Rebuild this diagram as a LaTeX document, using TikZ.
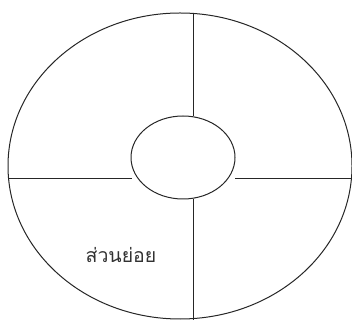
\documentclass[tikz,border=0pt]{standalone}
\usepackage{fontspec}
\newfontfamily\thaifont[Script=Thai]{Loma}
\usetikzlibrary{shapes.geometric}
\tikzset{
  vong/.style={ellipse, draw=black!85, line width=1pt, inner sep=0pt},
  sen/.style={draw=black!85, line width=1pt},
  pai/.style={font=\thaifont\fontsize{19.5}{22}\selectfont, text=black!80},
}
\begin{document}
\begin{tikzpicture}[x=1pt,y=1pt]
\useasboundingbox (0,0) rectangle (352,320);
% วงนอกและวงใน
\node[vong, minimum width=344pt, minimum height=306pt] (nok) at (180,154) {};
\node[vong, minimum width=104pt, minimum height=83pt] (nai) at (183,162.5) {};

% ปลายเส้นแบ่ง
\coordinate (bon) at (193,307);
\coordinate (bonnai) at (193,204);
\coordinate (lang) at (193,0);
\coordinate (langnai) at (193,121);
\coordinate (sai) at (9,141);
\coordinate (sainai) at (132,141);
\coordinate (khwa) at (352,141);
\coordinate (khwanai) at (235,141);

\draw[sen] (bon) -- (bonnai);
\draw[sen] (langnai) -- (lang);
\draw[sen] (sai) -- (sainai);
\draw[sen] (khwanai) -- (khwa);

\node[pai] (suanyoi) at (121,65) {ส่วนย่อย};
\end{tikzpicture}
\end{document}
